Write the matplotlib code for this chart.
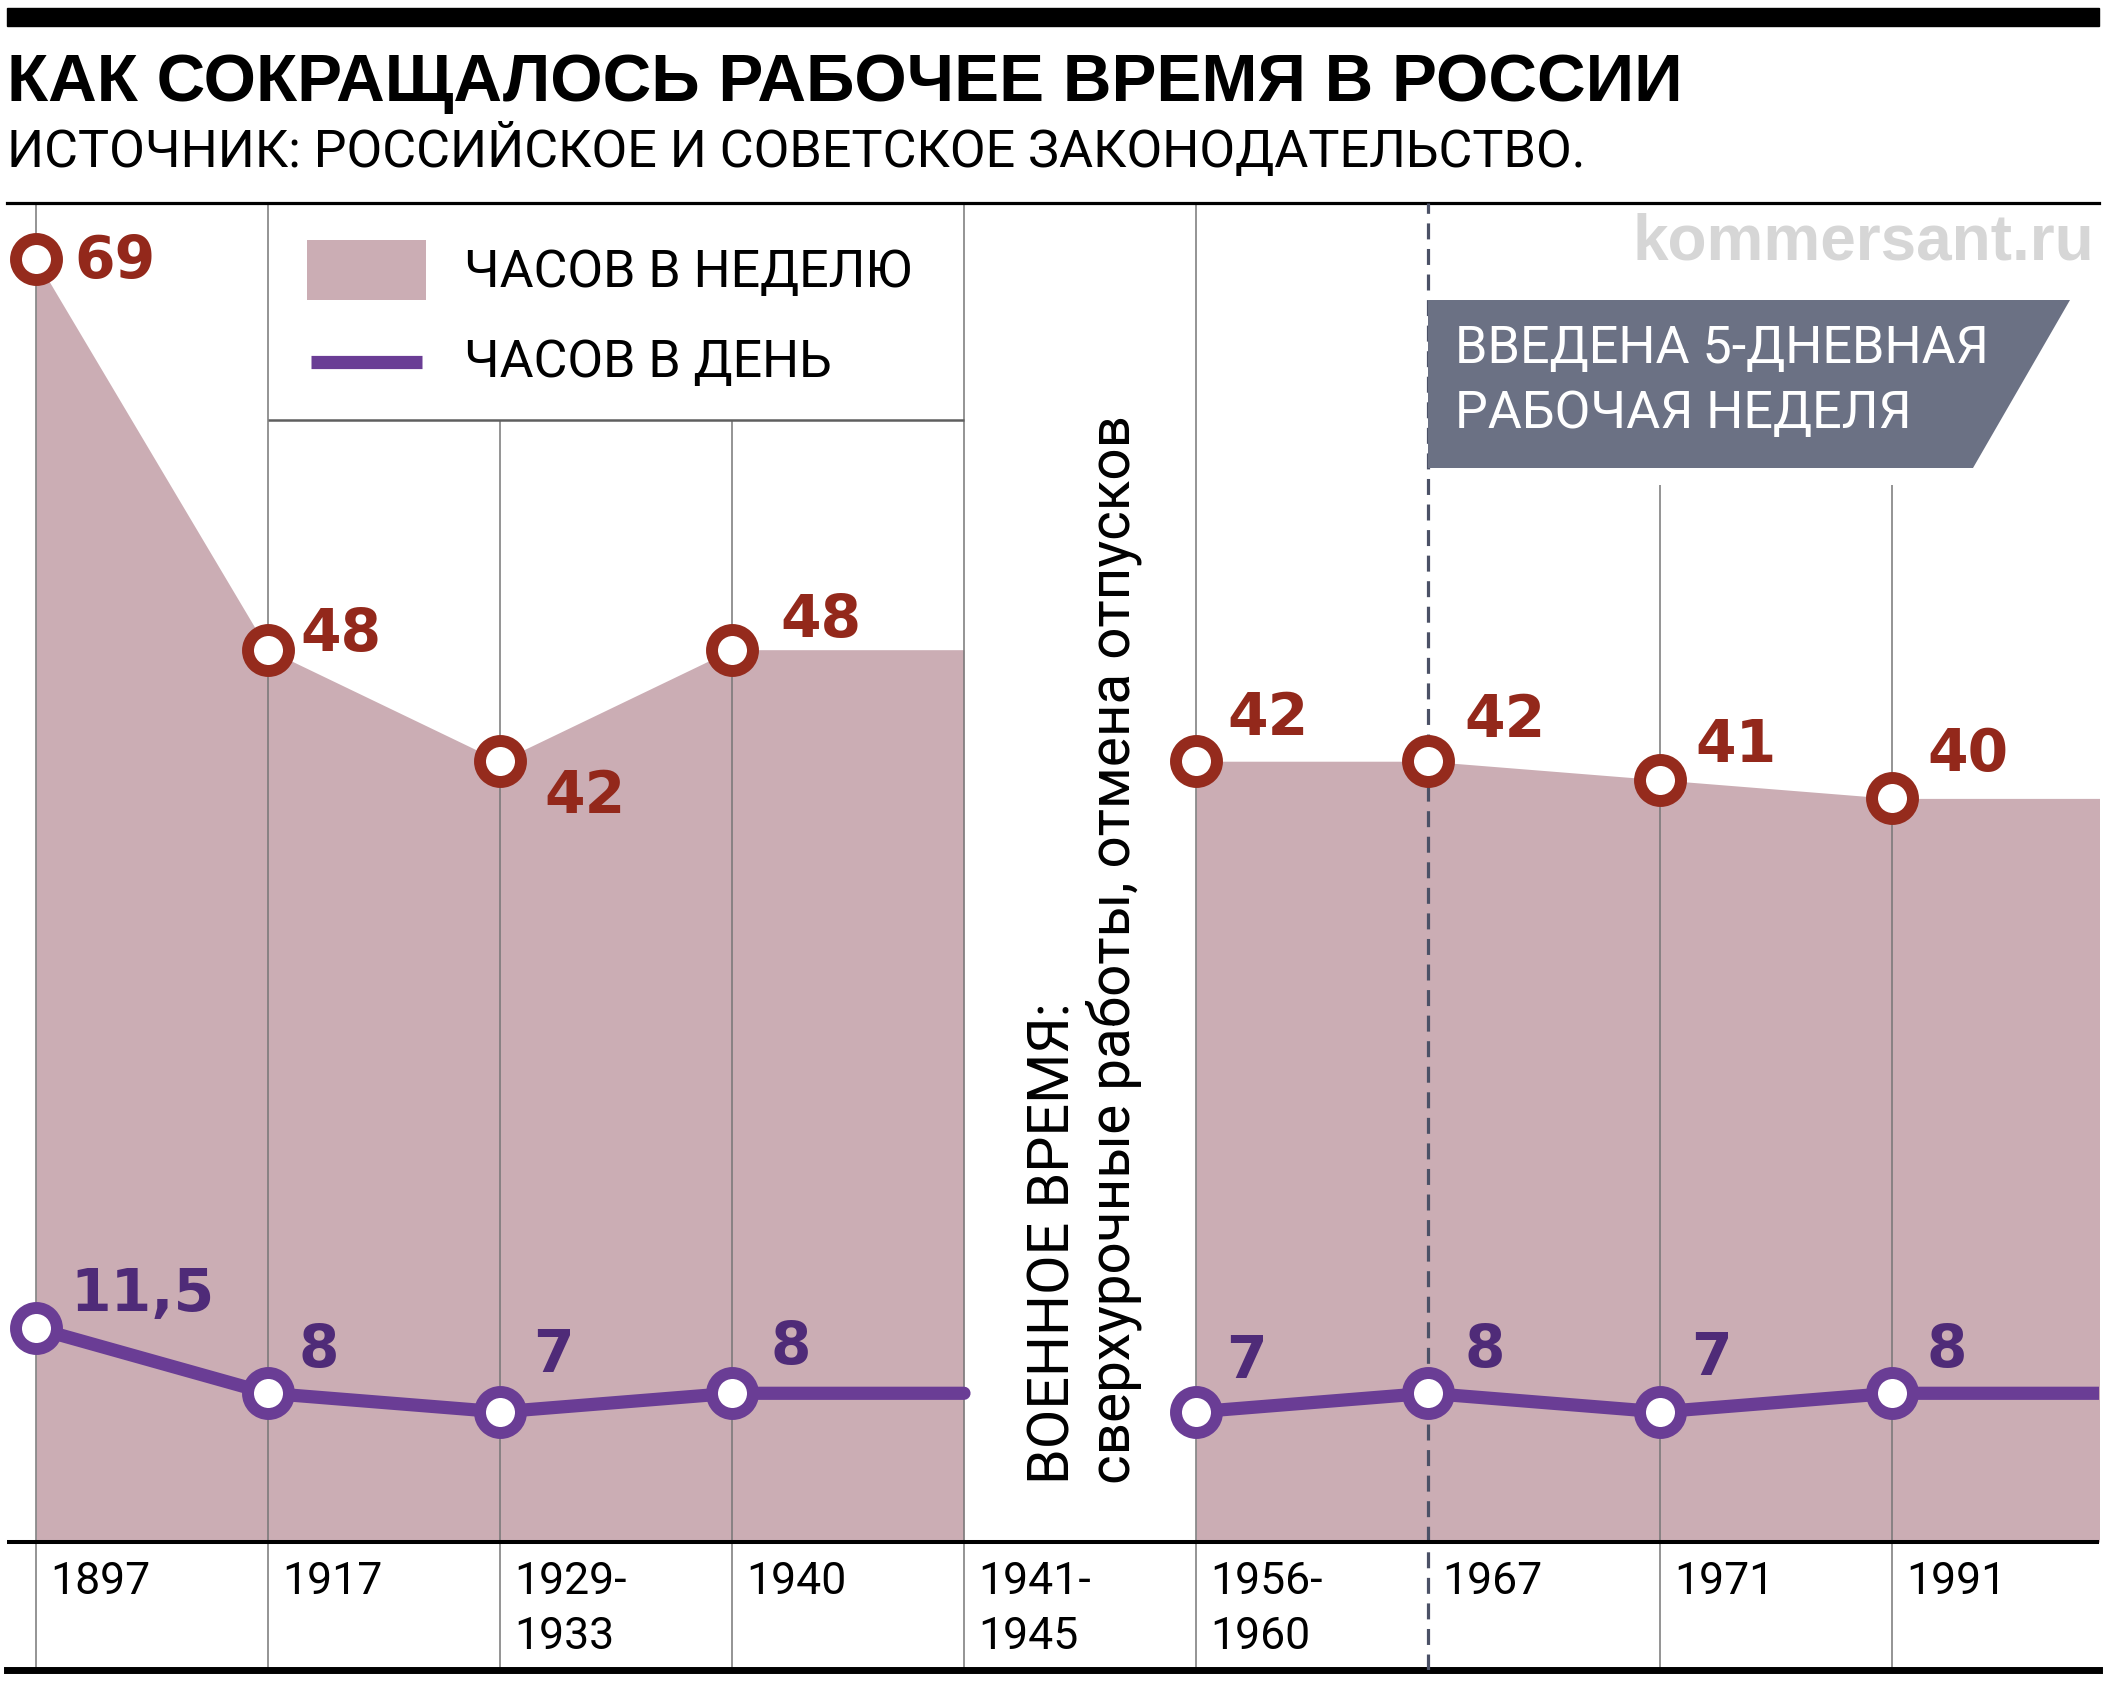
import numpy as np
import matplotlib
matplotlib.use('Agg')
import matplotlib.pyplot as plt
from matplotlib import font_manager
from matplotlib.patches import Polygon, Rectangle
from matplotlib.lines import Line2D

# данные
periods = ['1897', '1917', '1929-\n1933', '1940', '1941-\n1945',
           '1956-\n1960', '1967', '1971', '1991']
hours_week = [69, 48, 42, 48, np.nan, 42, 42, 41, 40]
hours_day = [11.5, 8, 7, 8, np.nan, 7, 8, 7, 8]
week_labels = ['69', '48', '42', '48', '', '42', '42', '41', '40']
day_labels = ['11,5', '8', '7', '8', '', '7', '8', '7', '8']

title = 'КАК СОКРАЩАЛОСЬ РАБОЧЕЕ ВРЕМЯ В РОССИИ'
source = 'ИСТОЧНИК: РОССИЙСКОЕ И СОВЕТСКОЕ ЗАКОНОДАТЕЛЬСТВО.'
legend_names = ['ЧАСОВ В НЕДЕЛЮ', 'ЧАСОВ В ДЕНЬ']
war_head = 'ВОЕННОЕ ВРЕМЯ:'
war_note = 'сверхурочные работы, отмена отпусков'
note_lines = ['ВВЕДЕНА 5-ДНЕВНАЯ', 'РАБОЧАЯ НЕДЕЛЯ']
site = 'kommersant.ru'

# цвета
FILL = '#cbadb4'
RED = '#952b1d'
RED_TXT = '#93281b'
PURPLE = '#6a3d95'
PURPLE_TXT = '#4f2b78'
GRID = '#767676'
SLATE = '#6b7184'
DASH = '#4b5166'

names = {f.name for f in font_manager.fontManager.ttflist}
SANS = 'Liberation Sans'
TEXT = 'Roboto' if 'Roboto' in names else SANS

W, H = 2110, 1684
X0, STEP = 36, 232      # px: первая колонка и шаг колонок
Y0, UNIT = 1542, 18.59  # px: линия нуля и один час


def px(x):
    return (x - X0) / STEP


def py(y):
    return (Y0 - y) / UNIT


fig = plt.figure(figsize=(W / 100, H / 100), dpi=100)
ax = fig.add_axes([7 / W, 1 - 1670 / H, 2092 / W, (1670 - 203) / H])
ax.set_xlim(px(7), px(2099))
ax.set_ylim(py(1670), py(203))
ax.set_xticks([])
ax.set_yticks([])
ax.spines['left'].set_visible(False)
ax.spines['right'].set_visible(False)
ax.spines['top'].set_linewidth(2.3)
ax.spines['bottom'].set_linewidth(5)


def fit(t, size, vertical=False):
    bb = t.get_window_extent(fig.canvas.get_renderer())
    cur = bb.height if vertical else bb.width
    t.set_fontsize(t.get_fontsize() * size / cur)
    return t.get_fontsize()


xs = np.arange(len(periods))
week = np.array(hours_week, float)
day = np.array(hours_day, float)

# до войны и после войны, последнее значение тянется до края колонки
for idx, stop in [(xs[:4], xs[4]), (xs[5:], px(2099) + 0.2)]:
    xx = np.append(idx, stop)
    ax.fill_between(xx, 0, np.append(week[idx], week[idx[-1]]),
                    color=FILL, lw=0, zorder=1)
    ax.plot(xx, np.append(day[idx], day[idx[-1]]), color=PURPLE, lw=9.5,
            solid_capstyle='round', solid_joinstyle='round', zorder=4)

# сетка колонок
ax.vlines([0, 1, 4, 5], py(1670), py(203), color=GRID, lw=1.1, zorder=2)
ax.vlines([2, 3], py(1670), py(420), color=GRID, lw=1.1, zorder=2)
ax.vlines([7, 8], py(1670), py(485), color=GRID, lw=1.1, zorder=2)
ax.plot([6, 6], [py(1670), py(203)], color=DASH, lw=2.3,
        dashes=(5, 3), zorder=3)
ax.hlines(py(420), 1, 4, color='#5f5f5f', lw=1.8, zorder=2)
ax.axhline(0, color='black', lw=2.9, zorder=5)

ax.plot(xs, week, 'o', ms=29.5, mfc='white', mec=RED, mew=8.6, zorder=6)
ax.plot(xs, day, 'o', ms=29.5, mfc='white', mec=PURPLE, mew=8.6, zorder=6)

# подписи значений (смещения в px: вправо, вниз до центра цифр)
week_off = [(38, -2), (32, -20), (44, 31), (48, -34), None,
            (31, -47), (36, -45), (35, -39), (35, -48)]
day_off = [(34, -38), (30, -47), (33, -61), (38, -50), None,
           (30, -55), (36, -47), (31, -58), (34, -47)]
for i in xs:
    if not week_labels[i]:
        continue
    ox, oy = week_off[i]
    ax.annotate(week_labels[i], (i, week[i]), xytext=(ox * 0.72, -(oy + 21) * 0.72),
                textcoords='offset points', ha='left', va='baseline',
                fontsize=42, fontweight='bold', family='DejaVu Sans',
                color=RED_TXT, zorder=7)
    ox, oy = day_off[i]
    ax.annotate(day_labels[i], (i, day[i]), xytext=(ox * 0.72, -(oy + 21) * 0.72),
                textcoords='offset points', ha='left', va='baseline',
                fontsize=42, fontweight='bold', family='DejaVu Sans',
                color=PURPLE_TXT, zorder=7)

# годы под осью
t = ax.text(0, 0, '1897', family=TEXT, fontsize=33)
fs_year = fit(t, 100)
t.remove()
for i, lab in enumerate(periods):
    for j, line in enumerate(lab.split('\n')):
        ax.text(i + 14 / STEP, py(1594 + 55 * j), line, ha='left',
                va='baseline', family=TEXT, fontsize=fs_year)

# военное время
t = ax.text(px(1054), py(1484), war_head, rotation=90, ha='center',
            va='bottom', family=TEXT, fontsize=36)
fit(t, 481, vertical=True)
t = ax.text(px(1114), py(1484), war_note, rotation=90, ha='center',
            va='bottom', family=TEXT, fontsize=36)
fit(t, 1071, vertical=True)

# плашка про пятидневку
ax.add_patch(Polygon([(px(1428), py(300)), (px(2070), py(300)),
                      (px(1973), py(468)), (px(1428), py(468))],
                     closed=True, facecolor=SLATE, edgecolor='none', zorder=8))
t = ax.text(px(1455), py(363), note_lines[0], ha='left', va='baseline',
            color='white', family=TEXT, fontsize=34, zorder=9)
fs_note = fit(t, 533)
ax.text(px(1455), py(428), note_lines[1], ha='left', va='baseline',
        color='white', family=TEXT, fontsize=fs_note, zorder=9)

# легенда
fig.add_artist(Rectangle((307 / W, 1 - 300 / H), 119 / W, 60 / H,
                         transform=fig.transFigure, color=FILL, lw=0))
fig.add_artist(Line2D([311 / W, 422 / W], [1 - 362 / H] * 2,
                      transform=fig.transFigure, color=PURPLE, lw=9.5,
                      solid_capstyle='butt'))
t = fig.text(464 / W, 1 - 287 / H, legend_names[0], ha='left',
             va='baseline', family=TEXT, fontsize=35)
fs_leg = fit(t, 448)
fig.text(464 / W, 1 - 377 / H, legend_names[1], ha='left',
         va='baseline', family=TEXT, fontsize=fs_leg)

# шапка
fig.add_artist(Rectangle((7 / W, 1 - 26 / H), 2092 / W, 18 / H,
                         transform=fig.transFigure, color='black'))
t = fig.text(7 / W, 1 - 101 / H, title, ha='left', va='baseline',
             family=SANS, fontweight='bold', fontsize=46)
fit(t, 1675)
t = fig.text(7 / W, 1 - 167 / H, source, ha='left', va='baseline',
             family=TEXT, fontsize=34)
fit(t, 1581)
t = fig.text(2094 / W, 1 - 260 / H, site, ha='right', va='baseline',
             family=SANS, fontweight='bold', fontsize=46, color='#d6d6d6')
fit(t, 462)

fig.savefig('out.png', dpi=100)
